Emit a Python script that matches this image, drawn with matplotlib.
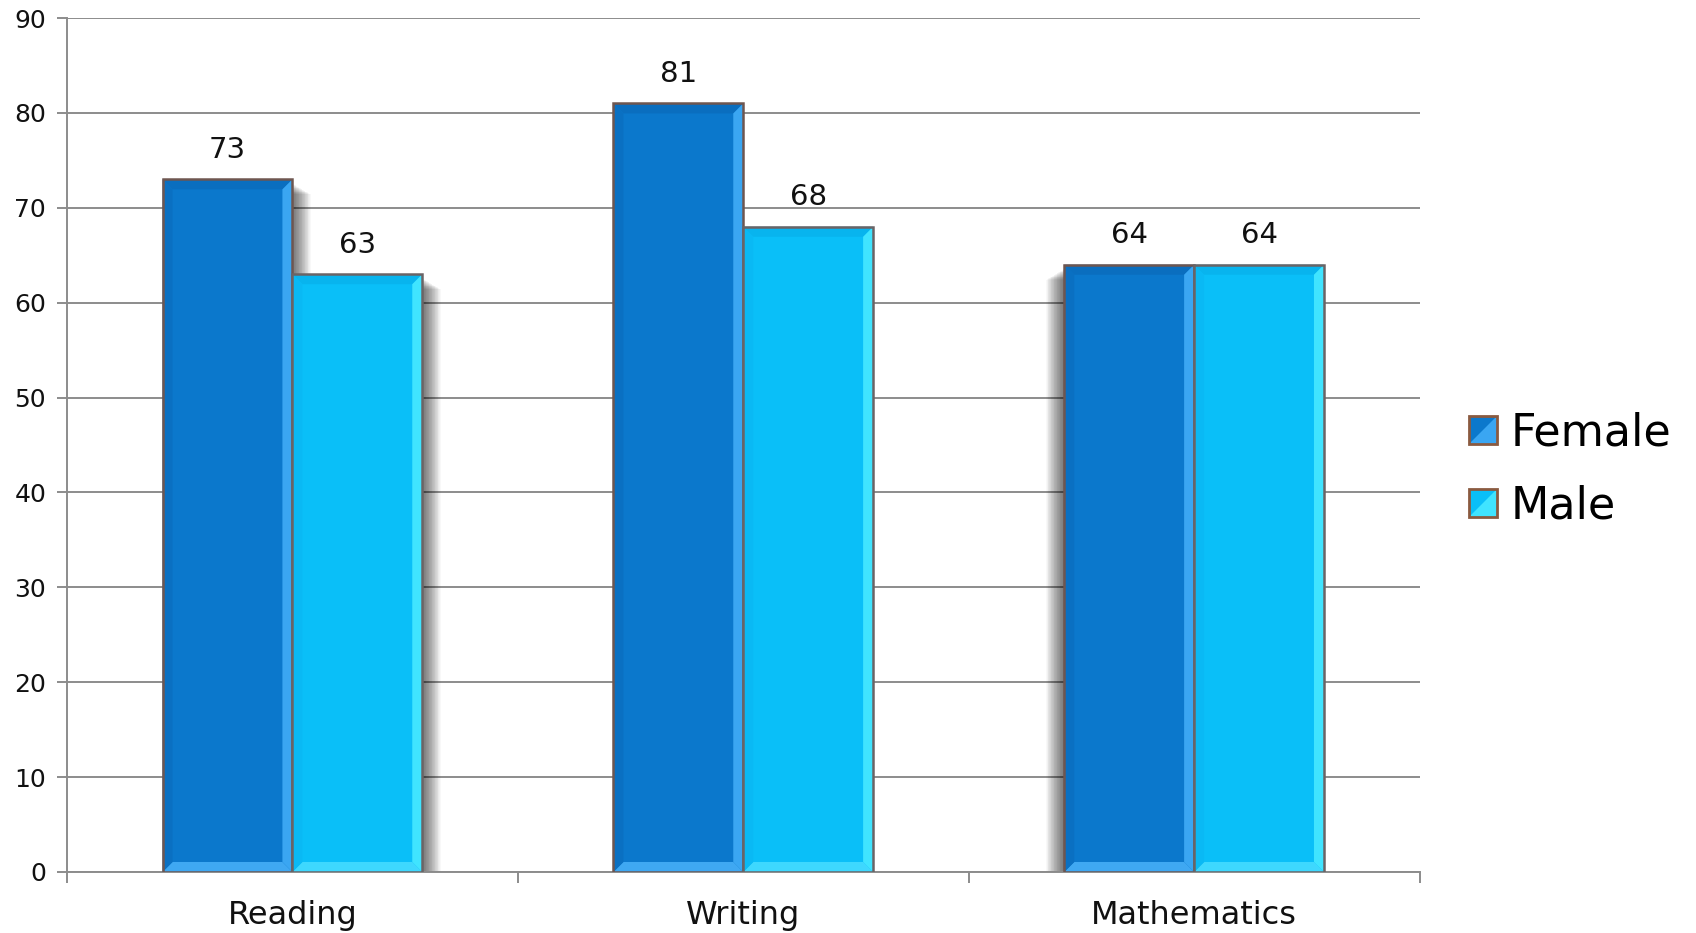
import matplotlib.pyplot as plt
from matplotlib.patches import Polygon, Rectangle
from matplotlib.legend_handler import HandlerBase
import numpy as np

categories = ["Reading", "Writing", "Mathematics"]
female = [73, 81, 64]
male = [63, 68, 64]
series_names = ["Female", "Male"]
yticks = [0, 10, 20, 30, 40, 50, 60, 70, 80, 90]
# side the drop shadow falls on, per category (+1 right, -1 left, 0 none)
shadow_side = [1, 0, -1]

# face, top, left, right, bottom bevel colours
palettes = [
    ("#0B78CC", "#0A6EBF", "#0A70C2", "#3AA6F2", "#3FA8F2"),
    ("#0ABFF8", "#08B4EE", "#0AB9F4", "#40E4FF", "#3ED8FE"),
]
edge_cols = ["#6E5650", "#6A6466"]

plt.rcParams['font.family'] = ['DejaVu Sans']

fig = plt.figure(figsize=(16.96, 9.33), dpi=100)
ax = fig.add_axes([0.0395, 0.0654, 0.7975, 0.9153])
ax.set_xlim(-0.5, 2.5)
ax.set_ylim(0, 90)

# data units per pixel, used for the bevel and shadow sizes
bbox = ax.get_window_extent()
ux = 3.0 / bbox.width
uy = 90.0 / bbox.height

width = 0.288
x = np.arange(len(categories))


def bevel_bar(x0, h, pal, edge, side, z):
    x1 = x0 + width
    dx, dy = 10 * ux, 10 * uy
    # soft drop shadow, built from stacked translucent layers
    if side != 0:
        for k in range(24):
            off = 1 + k * 0.75
            ax.add_patch(Rectangle((x0 + side * off * ux, 0), width,
                                   h - (4 + off * 0.6) * uy,
                                   facecolor="#000000", alpha=0.028,
                                   edgecolor="none", zorder=2))
    face, top, left, right, bottom = pal
    ax.add_patch(Rectangle((x0, 0), width, h, facecolor=face,
                           edgecolor="none", zorder=z))
    polys = [
        ([(x0, h), (x1, h), (x1 - dx, h - dy), (x0 + dx, h - dy)], top),
        ([(x0, 0), (x1, 0), (x1 - dx, dy), (x0 + dx, dy)], bottom),
        ([(x0, 0), (x0, h), (x0 + dx, h - dy), (x0 + dx, dy)], left),
        ([(x1, 0), (x1, h), (x1 - dx, h - dy), (x1 - dx, dy)], right),
    ]
    for pts, c in polys:
        ax.add_patch(Polygon(pts, closed=True, facecolor=c,
                             edgecolor="none", zorder=z))
    ax.add_patch(Rectangle((x0, 0), width, h, facecolor="none",
                           edgecolor=edge, linewidth=1.8, zorder=z + 0.5))


for i in range(len(categories)):
    bevel_bar(x[i] - width, female[i], palettes[0], edge_cols[0],
              shadow_side[i], 3)
    bevel_bar(x[i], male[i], palettes[1], edge_cols[1], shadow_side[i], 4)
    ax.text(x[i] - width / 2, female[i] + 3.1, str(female[i]),
            ha="center", va="center", fontsize=21, color="#111111")
    ax.text(x[i] + width / 2, male[i] + 3.1, str(male[i]),
            ha="center", va="center", fontsize=21, color="#111111")

# axes styling
ax.set_yticks(yticks)
ax.set_yticklabels([str(v) for v in yticks], fontsize=18, color="#111111")
ax.yaxis.grid(True, color="#8C8C8C", linewidth=1.4)
ax.set_axisbelow(True)
ax.tick_params(axis="y", length=7, width=1.4, color="#8C8C8C", pad=8)

ax.set_xticks([-0.5, 0.5, 1.5, 2.5])
ax.set_xticklabels([])
ax.set_xticks(x, minor=True)
ax.set_xticklabels(categories, minor=True, fontsize=23, color="#111111")
ax.tick_params(axis="x", which="major", length=8, width=1.4, color="#8C8C8C")
ax.tick_params(axis="x", which="minor", length=0, pad=20)

for s in ["top", "right"]:
    ax.spines[s].set_visible(False)
for s in ["left", "bottom"]:
    ax.spines[s].set_color("#8C8C8C")
    ax.spines[s].set_linewidth(1.4)


class BevelHandler(HandlerBase):
    def __init__(self, pal):
        super().__init__()
        self.pal = pal

    def create_artists(self, legend, orig_handle, xdescent, ydescent,
                       width, height, fontsize, trans):
        s = 20
        x0 = -xdescent
        y0 = -ydescent + (height - s) / 2
        face, top, left, right, bottom = self.pal
        arts = [Rectangle((x0, y0), s, s, facecolor=face, edgecolor="none",
                          transform=trans)]
        # diagonal split into dark and light halves
        arts.append(Polygon([(x0, y0), (x0 + s, y0), (x0 + s, y0 + s)],
                            closed=True, facecolor=right, edgecolor="none",
                            transform=trans))
        arts.append(Rectangle((x0, y0), s, s, facecolor="none",
                              edgecolor="#8A5A40", linewidth=2,
                              transform=trans))
        return arts


h1 = Rectangle((0, 0), 1, 1)
h2 = Rectangle((0, 0), 1, 1)
leg = fig.legend([h1, h2], series_names, loc="center left",
                 bbox_to_anchor=(0.866, 0.497), frameon=False, fontsize=32,
                 handler_map={h1: BevelHandler(palettes[0]),
                              h2: BevelHandler(palettes[1])},
                 handlelength=0.65, handletextpad=0.3, labelspacing=0.68,
                 borderpad=0, borderaxespad=0)

fig.savefig("out.png", dpi=100)
